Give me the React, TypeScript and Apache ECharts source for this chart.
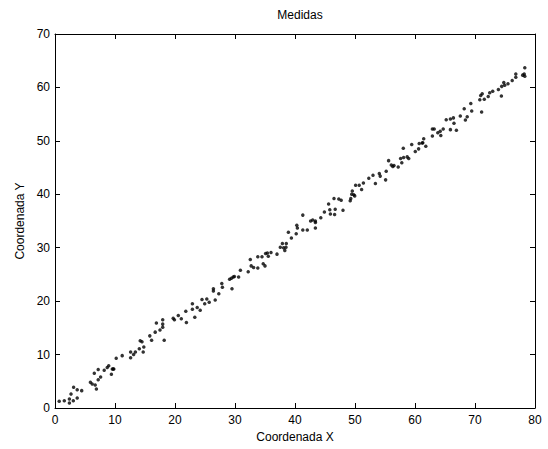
import React, { useEffect, useRef } from "react";
import * as echarts from "echarts";

const title = "Medidas";
const xName = "Coordenada X";
const yName = "Coordenada Y";

const xs: number[] = [
  0.7, 1.55, 2.4, 2.4, 2.67, 3.1, 3.05, 3.7, 3.7, 4.45, 5.9, 6.2, 6.7, 6.9, 6.55, 7.2, 7.2, 7.6, 8.2, 8.7, 8.95, 9.4, 9.55, 9.7, 9.8, 10.2, 11.2, 12.6, 12.6,
  13.1, 13.4, 14.05, 14.2, 14.5, 14.8, 14.7, 15.8, 16.1, 16.7, 16.9, 17.5, 17.95, 17.95, 17.95, 18.2, 19.7, 19.9, 20.55, 21.05, 21.8, 21.9, 22.9, 22.9, 23.3, 23.7, 24.2, 24.5, 24.95, 25.3, 25.7,
  26.4, 26.4, 26.7, 27.3, 27.8, 27.9, 29.1, 29.4, 29.7, 29.9, 29.5, 30.6, 30.9, 32.2, 32.55, 32.7, 33.1, 33.8, 33.8, 34.5, 34.7, 35.0, 35.1, 35.4, 35.55, 36.0, 37.0, 37.55, 37.9, 38.1, 38.3, 38.5, 38.55, 38.9, 39.4,
  40.2, 40.3, 40.4, 41.3, 41.3, 42.05, 42.6, 42.95, 43.4, 43.4, 43.4, 44.3, 44.9, 45.6, 45.8, 45.9, 46.5, 46.6, 46.7, 47.3, 47.7, 48.0, 49.2, 49.3, 49.45, 49.55, 49.8, 49.95, 50.1, 50.7, 51.1, 51.4, 52.3,
  53.0, 53.4, 54.05, 54.2, 55.1, 55.2, 55.6, 56.05, 56.3, 56.5, 57.2, 57.6, 57.8, 58.05, 58.1, 58.7, 58.95, 59.45, 60.05, 60.6, 60.7, 61.2, 61.3, 61.45, 61.8, 62.9, 62.9, 63.2, 63.8, 64.2, 64.3, 64.7, 65.2, 65.9, 65.9,
  66.4, 66.5, 66.9, 67.55, 68.2, 68.4, 68.7, 69.3, 69.45, 70.8, 70.95, 71.2, 71.1, 71.55, 72.2, 72.45, 72.95, 73.9, 74.4, 74.45, 74.8, 74.95, 75.5, 76.2, 76.8, 76.8, 77.95, 78.2, 78.3, 78.3,
];

const ys: number[] = [
  1.25, 1.37, 0.94, 1.7, 2.6, 3.9, 1.37, 3.4, 1.87, 3.25, 4.8, 4.5, 4.3, 3.55, 6.5, 7.2, 5.3, 5.8, 7.05, 7.6, 7.9, 6.3, 7.3, 7.3, 7.3, 9.3, 9.8, 10.5, 9.4,
  10.0, 10.5, 11.1, 12.6, 12.4, 11.4, 10.5, 13.5, 12.7, 14.2, 15.9, 14.6, 16.5, 15.7, 15.1, 12.7, 16.8, 16.5, 17.3, 16.7, 18.1, 16.0, 18.5, 19.5, 17.0, 18.8, 18.3, 20.3, 19.5, 20.4, 19.8,
  22.3, 21.9, 20.2, 21.4, 23.3, 22.6, 24.1, 24.3, 24.5, 24.6, 22.3, 24.5, 25.8, 25.5, 27.8, 26.6, 26.3, 26.2, 28.3, 28.3, 27.0, 26.6, 28.9, 29.0, 28.4, 29.1, 28.8, 30.1, 30.8, 30.0, 29.5, 30.1, 30.8, 32.9, 31.8,
  32.6, 34.2, 33.7, 33.3, 36.1, 33.3, 35.0, 35.2, 35.0, 34.7, 33.7, 35.6, 36.7, 38.2, 37.1, 36.3, 39.2, 36.2, 37.2, 39.1, 38.9, 37.0, 38.8, 39.2, 40.0, 40.6, 39.9, 39.7, 41.7, 41.7, 40.9, 42.1, 43.0,
  43.55, 42.0, 43.9, 43.4, 42.7, 44.3, 46.3, 45.5, 45.2, 45.4, 45.1, 46.7, 45.9, 48.6, 46.9, 47.0, 46.7, 49.3, 48.0, 48.5, 49.5, 49.6, 49.65, 50.4, 49.0, 52.2, 50.9, 52.2, 51.5, 51.8, 51.0, 52.2, 53.96, 54.1, 52.1,
  54.3, 53.3, 52.0, 54.65, 56.0, 53.9, 54.5, 57.0, 55.6, 57.7, 58.5, 58.8, 55.4, 57.8, 58.3, 59.0, 59.3, 59.6, 58.4, 60.2, 60.9, 60.4, 60.7, 61.3, 61.9, 62.5, 62.3, 62.5, 62.1, 63.7,
];

const FONT = "'Liberation Sans', Arial, Helvetica, sans-serif";

export default function App() {
  const ref = useRef<HTMLDivElement>(null);
  useEffect(() => {
    if (!ref.current) return;
    const chart = echarts.init(ref.current, null, { renderer: "svg" });
    const data = xs.map((x, i) => [x, ys[i]]);
    const axisCommon = {
      axisLine: { show: true, onZero: false, lineStyle: { color: "#000", width: 1 } },
      axisTick: { show: true, inside: true, length: 5, lineStyle: { color: "#000" } },
      splitLine: { show: false },
    };
    chart.setOption({
      animation: false,
      backgroundColor: "#fff",
      title: {
        text: title,
        left: 295,
        textAlign: "center",
        top: 4,
        textStyle: { fontFamily: FONT, fontSize: 12, fontWeight: "normal", color: "#000" },
      },
      grid: { left: 55, right: 13, top: 34, bottom: 41, containLabel: false },
      xAxis: [
        {
          type: "value",
          min: 0,
          max: 80,
          interval: 10,
          position: "bottom",
          name: xName,
          nameLocation: "middle",
          nameGap: 22,
          nameTextStyle: { fontFamily: FONT, fontSize: 12, color: "#000" },
          axisLabel: { fontFamily: FONT, fontSize: 12, color: "#000", margin: 6 },
          ...axisCommon,
        },
        {
          type: "value",
          min: 0,
          max: 80,
          interval: 10,
          position: "top",
          axisLabel: { show: false },
          ...axisCommon,
        },
      ],
      yAxis: [
        {
          type: "value",
          min: 0,
          max: 70,
          interval: 10,
          position: "left",
          name: yName,
          nameLocation: "middle",
          nameGap: 28,
          nameTextStyle: { fontFamily: FONT, fontSize: 12, color: "#000" },
          axisLabel: { fontFamily: FONT, fontSize: 12, color: "#000", margin: 5 },
          ...axisCommon,
        },
        {
          type: "value",
          min: 0,
          max: 70,
          interval: 10,
          position: "right",
          axisLabel: { show: false },
          ...axisCommon,
        },
      ],
      series: [
        {
          type: "scatter",
          data,
          symbol: "circle",
          symbolSize: 3.5,
          itemStyle: { color: "#000" },
        },
      ],
    });
    return () => chart.dispose();
  }, []);
  return (
    <div
      ref={ref}
      style={{ position: "fixed", left: 0, top: 0, width: 548, height: 449 }}
    />
  );
}
